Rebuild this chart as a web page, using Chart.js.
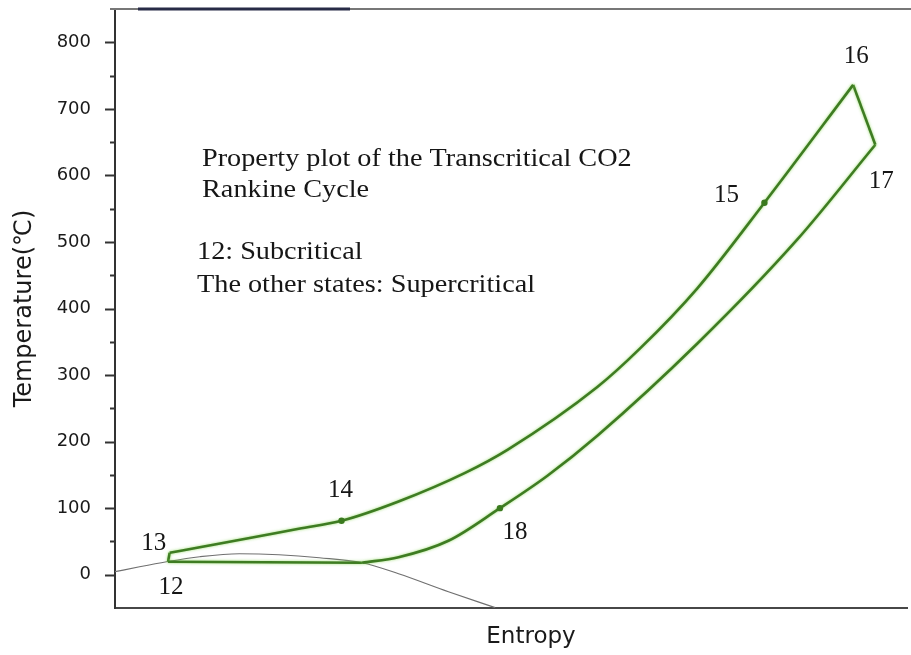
<!DOCTYPE html>
<html>
<head>
<meta charset="utf-8">
<title>T-s diagram of the transcritical CO2 Rankine cycle</title>
<script src="https://cdn.jsdelivr.net/npm/chart.js@4.4.1/dist/chart.umd.min.js"></script>
<style>
  html, body { margin: 0; padding: 0; background: #ffffff; }
  #wrap { width: 911px; height: 655px; }
</style>
</head>
<body>
<div id="wrap"><canvas id="c" width="911" height="655"></canvas></div>
<script>
// Entropy is in arbitrary units (no ticks on that axis), temperature in °C.

// Cycle state points
const stateNames = ['12', '13', '14', '15', '16', '17', '18'];
const stateS = [6.7, 6.9, 28.6, 82.0, 93.2, 96.0, 48.6];
const stateT = [19.5, 33, 81, 559, 736, 646, 100];
// states that carry a marker dot on the path
const markedStates = ['14', '15', '18'];

// Heating path 13 -> 14 -> 15 -> 16
const heatS = [6.9, 10.7, 17.0, 23.2, 28.6, 35.8, 44.2, 49.6, 60.9, 66.3, 73.5, 82.0, 93.2];
const heatT = [33, 41.3, 55.1, 69.1, 81, 110, 153, 188, 282, 340, 430, 559, 736];
// Expansion 16 -> 17
const expandS = [93.2, 96.0];
const expandT = [736, 646];
// Cooling path 17 -> 18 -> saturated vapour (listed by increasing entropy)
const coolS = [31.2, 35.8, 42.1, 48.6, 54.6, 60.9, 73.5, 86.1, 96.0];
const coolT = [18, 26.3, 51, 100, 148.7, 208.8, 347, 503, 646];
// Condensation back to 12, then pumping 12 -> 13
const condenseS = [6.7, 31.2];
const condenseT = [19.5, 18];
const pumpS = [6.7, 6.9];
const pumpT = [19.5, 33];
// Saturation dome of CO2
const domeS = [0, 3.1, 6.5, 10.7, 15.7, 20.7, 25.8, 31.2, 35.8, 42.1, 48.0];
const domeT = [4.5, 12, 19.5, 27, 31.5, 30, 25.5, 18, 1.5, -25.5, -49.5];

// Axis ranges and tick labels
const entropyMin = 0, entropyMax = 100;
const tempMin = -50, tempMax = 850, tempStep = 50;
const tempLabels = ['0', '100', '200', '300', '400', '500', '600', '700', '800'];
const xTitle = 'Entropy';
const yTitle = 'Temperature(℃)';

const infoLines = [
  'Property plot of the Transcritical CO2',
  'Rankine Cycle',
  '12: Subcritical',
  'The other states: Supercritical'
];

const pts = (xs, ys) => xs.map((x, i) => ({ x: x, y: ys[i] }));

const GREEN = '#3e7c22';

const pathStyle = {
  showLine: true,
  pointRadius: 0,
  borderColor: GREEN,
  borderWidth: 2.6,
  cubicInterpolationMode: 'monotone',
  fill: false,
  glow: true,
  order: 1
};

const markerPts = markedStates.map(n => {
  const i = stateNames.indexOf(n);
  return { x: stateS[i], y: stateT[i] };
});

// soft light-green halo around the cycle lines
const glowPlugin = {
  id: 'glow',
  beforeDatasetDraw(chart, args) {
    if (chart.data.datasets[args.index].glow) {
      const ctx = chart.ctx;
      ctx.save();
      ctx.shadowColor = 'rgba(140, 215, 90, 0.85)';
      ctx.shadowBlur = 3;
    }
  },
  afterDatasetDraw(chart, args) {
    if (chart.data.datasets[args.index].glow) chart.ctx.restore();
  }
};

// major / minor tick marks on the temperature axis, the top frame line
// and the entropy axis title (set a little right of the plot centre)
const framePlugin = {
  id: 'frame',
  afterDraw(chart, args, opts) {
    const ctx = chart.ctx;
    const y = chart.scales.y;
    const area = chart.chartArea;
    ctx.save();
    ctx.strokeStyle = '#333333';
    ctx.lineWidth = 2;
    y.ticks.forEach(t => {
      if (t.value <= tempMin || t.value >= tempMax) return;
      const py = Math.round(y.getPixelForValue(t.value)) + 0.5;
      const len = (t.value % 100 === 0) ? 10 : 5;
      ctx.beginPath();
      ctx.moveTo(area.left - len, py);
      ctx.lineTo(area.left, py);
      ctx.stroke();
    });
    // top frame
    ctx.strokeStyle = '#777777';
    ctx.lineWidth = 2;
    ctx.beginPath();
    ctx.moveTo(area.left - 5, area.top);
    ctx.lineTo(chart.width, area.top);
    ctx.stroke();
    ctx.strokeStyle = '#272b46';
    ctx.lineWidth = 3;
    ctx.beginPath();
    ctx.moveTo(area.left + 23, area.top);
    ctx.lineTo(area.left + 235, area.top);
    ctx.stroke();
    // entropy axis title
    ctx.fillStyle = '#1a1a1a';
    ctx.font = '23px "DejaVu Sans", sans-serif';
    ctx.textAlign = 'center';
    ctx.textBaseline = 'middle';
    ctx.fillText(xTitle, (area.left + area.right) / 2 + opts.xTitleShift, area.bottom + opts.xTitleGap);
    ctx.restore();
  }
};

// state numbers next to the points and the explanatory text
const textPlugin = {
  id: 'stateText',
  afterDatasetsDraw(chart, args, opts) {
    const ctx = chart.ctx;
    const xs = chart.scales.x, ys = chart.scales.y;
    ctx.save();
    ctx.fillStyle = '#161616';
    ctx.textAlign = 'center';
    ctx.textBaseline = 'middle';
    ctx.font = '25px "Liberation Serif", serif';
    stateNames.forEach((name, i) => {
      const off = opts.offsets[name];
      const px = xs.getPixelForValue(stateS[i]) + off[0];
      const py = ys.getPixelForValue(stateT[i]) + off[1];
      ctx.fillText(name, px, py);
    });
    ctx.textAlign = 'left';
    ctx.textBaseline = 'alphabetic';
    infoLines.forEach((line, i) => {
      const p = opts.infoPos[i];
      ctx.save();
      ctx.translate(p[0], p[1]);
      ctx.scale(1.13, 1);
      ctx.fillText(line, 0, 0);
      ctx.restore();
    });
    ctx.restore();
  }
};

new Chart(document.getElementById('c'), {
  type: 'scatter',
  data: {
    datasets: [
      Object.assign({ label: 'Heating', data: pts(heatS, heatT) }, pathStyle),
      Object.assign({ label: 'Expansion', data: pts(expandS, expandT) }, pathStyle, { cubicInterpolationMode: 'default', tension: 0 }),
      Object.assign({ label: 'Cooling', data: pts(coolS, coolT) }, pathStyle),
      Object.assign({ label: 'Condensation', data: pts(condenseS, condenseT) }, pathStyle, { cubicInterpolationMode: 'default', tension: 0 }),
      Object.assign({ label: 'Pump', data: pts(pumpS, pumpT) }, pathStyle, { cubicInterpolationMode: 'default', tension: 0 }),
      {
        label: 'States',
        data: markerPts,
        showLine: false,
        pointRadius: 3.2,
        pointBackgroundColor: '#3a7a1e',
        pointBorderWidth: 0,
        order: 0
      },
      {
        label: 'Saturation dome',
        data: pts(domeS, domeT),
        showLine: true,
        pointRadius: 0,
        borderColor: '#707070',
        borderWidth: 1.2,
        cubicInterpolationMode: 'monotone',
        fill: false,
        order: 3
      }
    ]
  },
  options: {
    responsive: false,
    animation: false,
    events: [],
    layout: { padding: { left: 0, top: 9, right: 0, bottom: 0 } },
    plugins: {
      legend: { display: false },
      tooltip: { enabled: false },
      frame: { xTitleShift: 20, xTitleGap: 29 },
      stateText: {
        offsets: {
          '12': [3, 26], '13': [-16, -9], '14': [-1, -30], '15': [-38, -7],
          '16': [3, -28], '17': [6, 37], '18': [15, 24]
        },
        infoPos: [[202, 166], [202, 197], [197, 259], [197, 292]]
      }
    },
    scales: {
      x: {
        type: 'linear',
        min: entropyMin,
        max: entropyMax,
        afterFit(s) { s.height = 47; },
        ticks: { display: false },
        grid: { display: false, drawTicks: false },
        border: { display: true, color: '#474747', width: 2 },
        title: { display: false }
      },
      y: {
        min: tempMin,
        max: tempMax,
        afterFit(s) { s.width = 115; },
        ticks: {
          stepSize: tempStep,
          autoSkip: false,
          padding: 0,
          color: '#1a1a1a',
          font: { family: '"DejaVu Sans", sans-serif', size: 18, lineHeight: 1 },
          callback: v => tempLabels.includes(String(v)) ? String(v) : ''
        },
        // tick marks are drawn by the frame plugin; the invisible ticks only set the label gap
        grid: { display: true, drawOnChartArea: false, drawTicks: true, tickLength: 24, tickColor: 'rgba(0,0,0,0)' },
        border: { display: true, color: '#333333', width: 2 },
        title: {
          display: true,
          text: yTitle,
          color: '#1a1a1a',
          font: { family: '"DejaVu Sans", sans-serif', size: 24 },
          padding: { top: 10, bottom: 0 }
        }
      }
    }
  },
  plugins: [glowPlugin, framePlugin, textPlugin]
});
</script>
</body>
</html>
